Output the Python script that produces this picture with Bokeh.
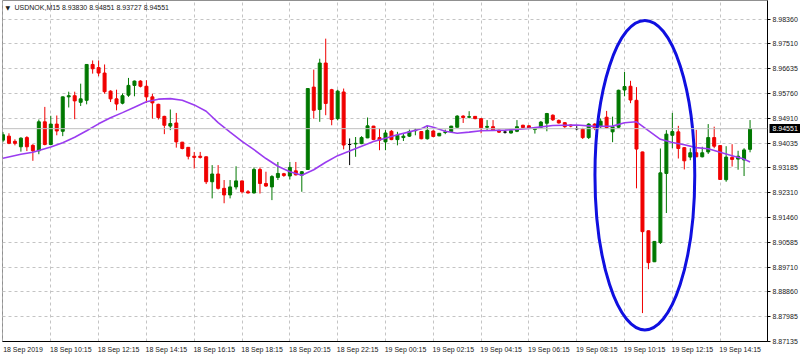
import pandas as pd
from bokeh.plotting import figure
from bokeh.models import (ColumnDataSource, Range1d, FixedTicker, Span, Label,
                          LinearAxis, Grid, PrintfTickFormatter)
from bokeh.embed import file_html
from bokeh.resources import INLINE

# ---------------- data (USDNOK, M15) ----------------
opens = [8.9415, 8.9429, 8.9411, 8.9392, 8.9424, 8.9397, 8.9378, 8.9479, 8.9400, 8.9471,
         8.9446, 8.9566, 8.9570, 8.9547, 8.9554, 8.9679, 8.9668, 8.9649, 8.9586, 8.9559,
         8.9544, 8.9572, 8.9606, 8.9621, 8.9603, 8.9566, 8.9540, 8.9498, 8.9464, 8.9475,
         8.9408, 8.9390, 8.9359, 8.9359, 8.9357, 8.9270, 8.9297, 8.9247, 8.9224, 8.9252,
         8.9273, 8.9235, 8.9231, 8.9313, 8.9264, 8.9252, 8.9285, 8.9298, 8.9290, 8.9308,
         8.9293, 8.9313, 8.9600, 8.9522, 8.9684, 8.9591, 8.9490, 8.9583, 8.9400, 8.9402,
         8.9403, 8.9423, 8.9464, 8.9424, 8.9409, 8.9446, 8.9417, 8.9424, 8.9429, 8.9448,
         8.9445, 8.9420, 8.9447, 8.9430, 8.9442, 8.9445, 8.9460, 8.9499, 8.9495, 8.9498,
         8.9490, 8.9460, 8.9462, 8.9450, 8.9443, 8.9440, 8.9446, 8.9467, 8.9465, 8.9452,
         8.9460, 8.9474, 8.9502, 8.9484, 8.9476, 8.9468, 8.9455, 8.9453, 8.9424, 8.9471,
         8.9462, 8.9495, 8.9444, 8.9460, 8.9590, 8.9603, 8.9554, 8.9374, 8.9099, 8.8991,
         8.9058, 8.9299, 8.9432, 8.9444, 8.9389, 8.9356, 8.9371, 8.9357, 8.9374, 8.9424,
         8.9396, 8.9277, 8.9355, 8.9349, 8.9346, 8.93830]
highs = [8.9443, 8.9439, 8.9418, 8.9425, 8.9429, 8.9401, 8.9487, 8.9531, 8.9500, 8.9501,
         8.9567, 8.9584, 8.9584, 8.9612, 8.9680, 8.9693, 8.9693, 8.9679, 8.9589, 8.9591,
         8.9578, 8.9632, 8.9623, 8.9624, 8.9624, 8.9577, 8.9542, 8.9500, 8.9522, 8.9510,
         8.9409, 8.9391, 8.9374, 8.9374, 8.9358, 8.9328, 8.9328, 8.9276, 8.9276, 8.9324,
         8.9274, 8.9241, 8.9320, 8.9320, 8.9305, 8.9293, 8.9339, 8.9301, 8.9339, 8.9339,
         8.9307, 8.9596, 8.9661, 8.9699, 8.9769, 8.9594, 8.9591, 8.9595, 8.9421, 8.9426,
         8.9429, 8.9494, 8.9465, 8.9456, 8.9450, 8.9450, 8.9444, 8.9438, 8.9452, 8.9456,
         8.9446, 8.9467, 8.9449, 8.9440, 8.9452, 8.9465, 8.9502, 8.9502, 8.9516, 8.9499,
         8.9491, 8.9485, 8.9485, 8.9451, 8.9448, 8.9450, 8.9485, 8.9469, 8.9467, 8.9461,
         8.9482, 8.9510, 8.9505, 8.9487, 8.9478, 8.9470, 8.9464, 8.9458, 8.9474, 8.9474,
         8.9491, 8.9517, 8.9497, 8.9591, 8.9653, 8.9622, 8.9600, 8.9375, 8.9100, 8.9063,
         8.9386, 8.9450, 8.9510, 8.9465, 8.9391, 8.9387, 8.9451, 8.9392, 8.9471, 8.9462,
         8.9398, 8.9394, 8.9401, 8.9378, 8.9387, 8.94851]
lows = [8.9408, 8.9401, 8.9397, 8.9375, 8.9377, 8.9343, 8.9366, 8.9397, 8.9397, 8.9432,
        8.9429, 8.9529, 8.9488, 8.9534, 8.9540, 8.9647, 8.9638, 8.9577, 8.9548, 8.9519,
        8.9540, 8.9566, 8.9568, 8.9599, 8.9545, 8.9490, 8.9487, 8.9436, 8.9450, 8.9389,
        8.9383, 8.9348, 8.9316, 8.9351, 8.9262, 8.9212, 8.9243, 8.9195, 8.9212, 8.9243,
        8.9229, 8.9229, 8.9229, 8.9229, 8.9252, 8.9206, 8.9276, 8.9287, 8.9278, 8.9292,
        8.9235, 8.9311, 8.9490, 8.9479, 8.9502, 8.9467, 8.9484, 8.9383, 8.9328, 8.9357,
        8.9401, 8.9422, 8.9415, 8.9380, 8.9380, 8.9415, 8.9397, 8.9412, 8.9426, 8.9432,
        8.9418, 8.9417, 8.9425, 8.9429, 8.9436, 8.9444, 8.9459, 8.9475, 8.9491, 8.9488,
        8.9439, 8.9450, 8.9450, 8.9440, 8.9438, 8.9438, 8.9443, 8.9457, 8.9455, 8.9438,
        8.9457, 8.9446, 8.9482, 8.9473, 8.9458, 8.9460, 8.9450, 8.9419, 8.9419, 8.9450,
        8.9458, 8.9456, 8.9408, 8.9457, 8.9568, 8.9544, 8.9247, 8.8812, 8.8965, 8.8990,
        8.9053, 8.9161, 8.9387, 8.9351, 8.9313, 8.9345, 8.9356, 8.9355, 8.9367, 8.9387,
        8.9277, 8.9270, 8.9323, 8.9312, 8.9290, 8.93727]
closes = [8.9434, 8.9404, 8.9404, 8.9422, 8.9392, 8.9378, 8.9479, 8.9400, 8.9471, 8.9447,
          8.9566, 8.9570, 8.9552, 8.9559, 8.9679, 8.9664, 8.9649, 8.9584, 8.9559, 8.9541,
          8.9570, 8.9606, 8.9621, 8.9603, 8.9566, 8.9545, 8.9494, 8.9467, 8.9473, 8.9409,
          8.9386, 8.9359, 8.9355, 8.9355, 8.9270, 8.9297, 8.9247, 8.9224, 8.9252, 8.9273,
          8.9235, 8.9231, 8.9313, 8.9264, 8.9255, 8.9288, 8.9299, 8.9292, 8.9320, 8.9294,
          8.9305, 8.9595, 8.9519, 8.9684, 8.9543, 8.9487, 8.9586, 8.9398, 8.9400, 8.9404,
          8.9424, 8.9465, 8.9417, 8.9415, 8.9440, 8.9417, 8.9432, 8.9429, 8.9445, 8.9450,
          8.9420, 8.9449, 8.9428, 8.9439, 8.9444, 8.9464, 8.9499, 8.9494, 8.9497, 8.9490,
          8.9458, 8.9463, 8.9451, 8.9443, 8.9443, 8.9448, 8.9462, 8.9459, 8.9457, 8.9457,
          8.9478, 8.9508, 8.9486, 8.9475, 8.9462, 8.9464, 8.9455, 8.9424, 8.9471, 8.9457,
          8.9481, 8.9459, 8.9462, 8.9589, 8.9602, 8.9555, 8.9384, 8.9096, 8.8988, 8.9062,
          8.9301, 8.9436, 8.9445, 8.9386, 8.9343, 8.9371, 8.9357, 8.9371, 8.9424, 8.9394,
          8.9278, 8.9356, 8.9348, 8.9359, 8.9381, 8.94551]

# moving average (bar index, value)
ma_bars = [0, 3, 5, 8, 10, 12, 14, 16, 18, 20, 22, 24, 26, 28, 30, 32, 34, 36, 38, 40,
           42, 44, 46, 48, 50, 52, 54, 56, 58, 60, 62, 64, 66, 68, 70, 71, 72, 74, 76, 78,
           80, 84, 88, 92, 96, 99, 102, 104, 106, 108, 110, 112, 114, 116, 118, 120, 122,
           124, 125]
ma_values = [8.9352, 8.9366, 8.9373, 8.9391, 8.9406, 8.9425, 8.9448, 8.9472, 8.9493, 8.9511,
             8.9530, 8.9549, 8.9558, 8.9560, 8.9554, 8.9538, 8.9516, 8.9476, 8.9443, 8.9411,
             8.9382, 8.9351, 8.9324, 8.9305, 8.9293, 8.9312, 8.9338, 8.9361, 8.9377, 8.9394,
             8.9410, 8.9422, 8.9434, 8.9444, 8.9455, 8.9465, 8.9460, 8.9446, 8.9439, 8.9443,
             8.9448, 8.9450, 8.9456, 8.9466, 8.9468, 8.9463, 8.9464, 8.9476, 8.9479, 8.9448,
             8.9418, 8.9407, 8.9399, 8.9389, 8.9385, 8.9373, 8.9361, 8.9349, 8.9339]

tick_bars = [0, 8, 16, 24, 32, 40, 48, 56, 64, 72, 80, 88, 96, 104, 112, 120]
tick_labels = ["18 Sep 2019", "18 Sep 10:15", "18 Sep 12:15", "18 Sep 14:15",
               "18 Sep 16:15", "18 Sep 18:15", "18 Sep 20:15", "18 Sep 22:15",
               "19 Sep 00:15", "19 Sep 02:15", "19 Sep 04:15", "19 Sep 06:15",
               "19 Sep 08:15", "19 Sep 10:15", "19 Sep 12:15", "19 Sep 14:15"]
price_ticks = [8.87135, 8.87985, 8.88860, 8.89710, 8.90585, 8.91460, 8.92310,
               8.93185, 8.94035, 8.94910, 8.95760, 8.96635, 8.97510, 8.98360]
symbol_title = "USDNOK,M15  8.93830 8.94851 8.93727 8.94551"
last_price = 8.94551

# highlighted region (ellipse annotation)
ell_bar, ell_price, ell_w_bars, ell_h_price = 107.4, 8.9293, 16.7, 0.1079

# ---------------- styling ----------------
FONT = "Liberation Sans"
BULL = "#007800"
BEAR = "#f00000"
DOJI = "#000000"
GRID = "#c4c4c4"
TXT = "#202020"

n = len(opens)
bar_times = pd.date_range("2019-09-18 08:15", periods=n, freq="15min")
bars = list(range(n))
colors = [BULL if c > o else (BEAR if c < o else DOJI) for o, c in zip(opens, closes)]
src = ColumnDataSource(dict(
    x=bars, t=bar_times, o=opens, h=highs, l=lows, c=closes,
    top=[max(o, c) for o, c in zip(opens, closes)],
    bot=[min(o, c) for o, c in zip(opens, closes)],
    col=colors))

x_start, x_end = -0.08, 127.92
label_shift = 3.35   # MT4 writes the time label to the right of its tick

p = figure(width=800, height=357, output_backend="svg", toolbar_location=None,
           x_range=Range1d(x_start, x_end), y_range=Range1d(8.8713, 8.9902),
           x_axis_location=None, y_axis_location="right",
           min_border_left=2, min_border_right=30, min_border_top=0, min_border_bottom=16)
p.background_fill_color = "white"
p.border_fill_color = "white"
p.outline_line_color = "#909090"

# x axis: labels left-aligned to the tick positions
p.extra_x_ranges = {"lbl": Range1d(x_start - label_shift, x_end - label_shift)}
xa = LinearAxis(x_range_name="lbl", ticker=FixedTicker(ticks=tick_bars),
                major_label_overrides={b: s for b, s in zip(tick_bars, tick_labels)})
xa.major_tick_out = 0
xa.major_tick_in = 0
xa.minor_tick_out = 0
xa.minor_tick_in = 0
xa.major_label_standoff = 4
xa.major_label_text_font = FONT
xa.major_label_text_font_size = "7px"
xa.major_label_text_color = TXT
xa.axis_line_color = "black"
p.add_layout(xa, "below")

# price axis
ya = p.yaxis[0]
ya.ticker = FixedTicker(ticks=price_ticks)
ya.formatter = PrintfTickFormatter(format="%.5f")
ya.major_label_text_font = FONT
ya.major_label_text_font_size = "7px"
ya.major_label_text_color = TXT
ya.major_label_standoff = 2
ya.major_tick_out = 3
ya.major_tick_in = 0
ya.minor_tick_out = 0
ya.minor_tick_in = 0
ya.axis_line_color = "black"
ya.major_tick_line_color = "black"

# last-price tag: a second price axis whose single wide tick forms the black box
yt = LinearAxis(ticker=FixedTicker(ticks=[last_price]),
                formatter=PrintfTickFormatter(format="%.5f"))
yt.axis_line_color = None
yt.major_tick_in = 31
yt.major_tick_out = 0
yt.minor_tick_in = 0
yt.minor_tick_out = 0
yt.major_tick_line_width = 9
yt.major_tick_line_color = "black"
yt.major_label_standoff = -28
yt.major_label_text_font = FONT
yt.major_label_text_font_size = "7px"
yt.major_label_text_color = "white"
p.add_layout(yt, "right")

# grids
if len(p.xgrid) == 0:
    p.add_layout(Grid(dimension=0), "center")
p.xgrid.ticker = FixedTicker(ticks=tick_bars)
for g in list(p.xgrid) + list(p.ygrid):
    g.grid_line_color = GRID
    g.grid_line_dash = "3 3"
    g.grid_line_width = 1

# current price line
p.add_layout(Span(location=last_price, dimension="width", line_color="#c0c0c0", line_width=1))

# candles
p.segment(x0="x", y0="l", x1="x", y1="h", color="col", line_width=1, source=src)
p.vbar(x="x", top="top", bottom="bot", width=0.5, fill_color="col", line_color="col",
       line_width=1, source=src)

# moving average
p.line(ma_bars, ma_values, line_color="#9a3cf0", line_width=1.6)

# highlight ellipse
p.ellipse(x=[ell_bar], y=[ell_price], width=[ell_w_bars], height=[ell_h_price],
          fill_color=None, line_color="#1010e0", line_width=3)

# symbol title
p.add_layout(Label(x=3, y=334, x_units="screen", y_units="screen", text="\u25bc",
                   text_font="DejaVu Sans", text_font_size="6px", text_baseline="middle",
                   text_color=TXT))
p.add_layout(Label(x=12, y=334, x_units="screen", y_units="screen", text=symbol_title,
                   text_font=FONT, text_font_size="7px", text_baseline="middle",
                   text_color=TXT))

open("out.html", "w").write(file_html(p, INLINE))
